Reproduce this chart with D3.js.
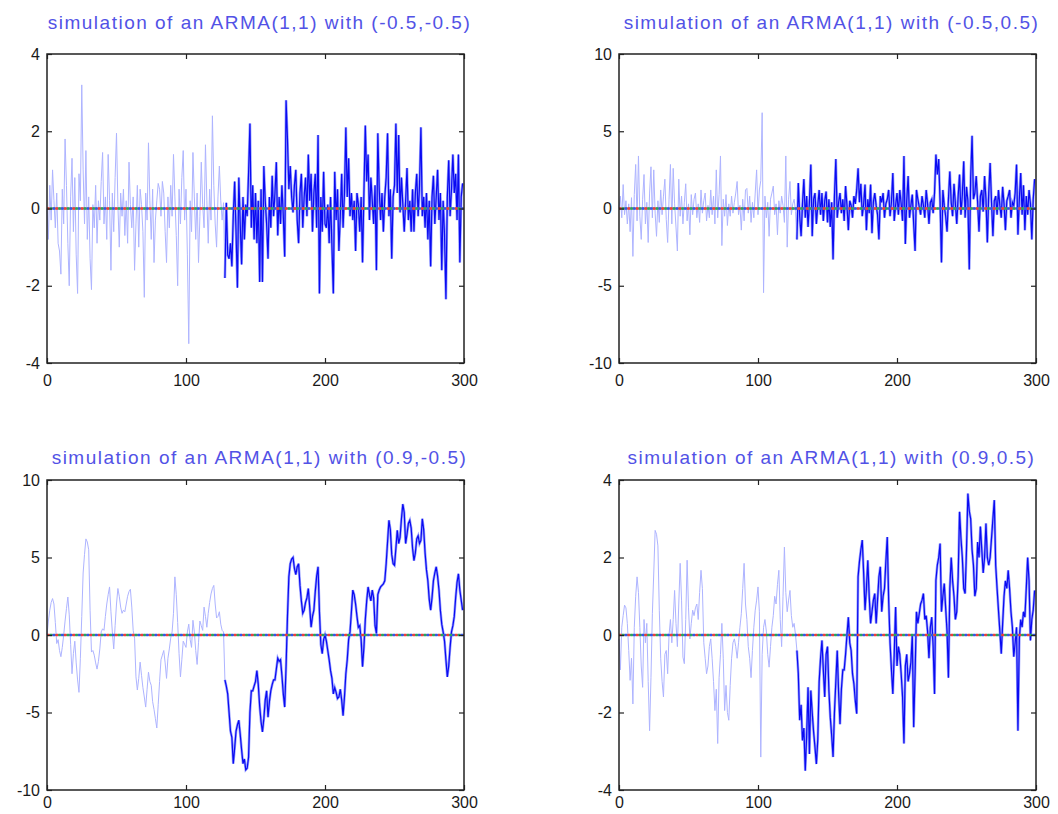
<!DOCTYPE html>
<html>
<head>
<meta charset="utf-8">
<script src="https://cdn.jsdelivr.net/npm/d3@7"></script>
<style>
    body { margin: 0; background: #fff; }
    .title { font-family: "Liberation Sans", Arial, sans-serif; font-size: 19px; letter-spacing: 1.5px; fill: #5252e6; }
    .axis text { font-family: "Liberation Sans", Arial, sans-serif; font-size: 16px; fill: #1a1a1a; }
    .axis line { stroke: #222; stroke-width: 1.2; }
    .axis path { display: none; }
    .frame { fill: none; stroke: #222; stroke-width: 1.5; }
</style>
</head>
<body>
<script>

var titles = [
    "simulation of an ARMA(1,1) with (-0.5,-0.5)",
    "simulation of an ARMA(1,1) with (-0.5,0.5)",
    "simulation of an ARMA(1,1) with (0.9,-0.5)",
    "simulation of an ARMA(1,1) with (0.9,0.5)"
];
var xTicks = [0, 100, 200, 300];
var yTicksSmall = [-4, -2, 0, 2, 4];
var yTicksLarge = [-10, -5, 0, 5, 10];
var yDomains = [[-4, 4], [-10, 10], [-10, 10], [-4, 4]];
var splitIndex = 128;

// (-0.5,-0.5)
var series1 = [
    0.0, -0.8, 0.6, -0.3, 1.0, 0.2, -0.5, 0.4, -0.9, -1.1, -1.7, 0.5, -0.4, 1.8, 0.6, -0.9, -2.0, 0.3, 1.3, -0.6,
    0.8, -1.2, -2.2, 0.9, 0.2, 3.2, 1.0, -0.4, 1.5, -0.8, 0.3, -1.3, -2.1, 0.1, -0.5, 0.6, -0.9, 0.2, -0.3, 0.7,
    1.45, -0.4, 0.3, -0.8, 1.4, 0.2, -1.6, 0.4, -0.6, 0.8, 1.95, 0.1, -1.0, 0.4, -0.2, 0.5, -0.7, 0.2, -0.9, 1.2,
    0.1, -0.5, 0.3, -1.6, -0.4, 0.6, -1.0, 0.5, 0.1, -0.6, -2.3, 0.4, -0.3, 1.7, 0.2, -0.8, 0.5, -1.4, -0.3, 0.2,
    0.65, 0.5, -0.2, 0.7, 0.4, -0.6, -1.4, 0.3, -0.5, 0.6, -0.2, 1.4, 0.3, -0.7, -2.0, 0.5, -0.4, 0.8, 1.5, -0.3,
    0.5, -1.2, -3.5, 0.2, -0.6, 1.45, 0.3, -0.8, 0.4, -1.4, -0.2, 1.2, 0.1, -0.5, 1.65, 0.2, -0.9, 0.5, -0.3, 2.4,
    0.6, -0.4, -1.0, 0.3, 1.1, 0.2, -0.3, 0.15, -1.8, 0.15, -1.2, -1.3, -0.9, -1.5, -0.2, 0.7, -0.6, -2.05, 0.8, -0.4,
    -1.45, 0.3, -0.8, 0.1, -0.2, 0.9, 2.2, -0.5, 0.6, -0.8, 0.4, -0.9, 0.2, -1.9, 0.5, -1.9, 1.1, 0.2, -0.4, -1.3,
    0.3, -0.5, 0.85, -0.2, 0.4, 1.2, -0.7, 0.3, -0.4, 0.6, -0.2, -1.25, 2.8, 1.8, 0.5, 1.1, 0.3, -0.1, 0.6, 1.0,
    -0.3, -0.9, 0.4, 0.9, -0.5, 0.3, 0.8, -0.2, 1.4, 0.2, 0.9, -0.6, 0.4, 0.9, -0.5, 1.9, -2.2, 0.3, -0.6, 0.95,
    -0.4, -0.5, 0.1, -0.9, 0.3, -1.0, -2.2, 0.95, -0.3, 0.5, -1.1, -0.2, 0.9, -0.5, 0.4, 2.1, 0.3, 1.3, -0.2, 0.4,
    -0.3, 0.2, -1.1, 0.4, 0.1, -0.6, 0.3, -1.4, 0.4, 2.15, 0.7, 1.4, -0.3, 0.8, 0.2, -0.4, 0.6, -1.6, 1.95, 0.5,
    -0.3, 0.4, -0.6, 0.3, 0.8, 1.95, -0.2, 0.5, -1.3, 0.3, 0.6, 2.2, 0.4, 1.9, -0.1, 0.8, 0.1, -0.6, 0.2, 1.05,
    -0.3, 0.2, -0.6, 0.5, -0.6, 0.4, 0.9, -0.2, 0.6, 2.1, -0.2, 0.3, -0.5, 0.4, -0.8, 0.2, -1.5, 0.3, 0.85, -0.4,
    0.3, 1.0, -0.3, 0.4, -1.6, 0.2, -0.7, -2.35, 0.3, 1.25, -0.2, 0.5, 1.4, 0.4, 0.9, -0.3, 1.4, -1.4, 0.3, 0.65
];

// (-0.5,0.5)
var series2 = [
    0.0, 0.8, -0.6, 1.55, -0.4, 0.5, -1.0, 0.3, -1.5, 0.7, -3.1, 0.9, 2.85, -0.8, 3.4, -0.5, -2.0, 0.6, 2.2, -1.0,
    0.4, -2.2, 1.0, 2.7, -0.6, 2.5, -0.3, -1.8, 0.5, -0.9, 1.2, -0.4, 0.8, 1.9, -0.7, -2.2, 0.6, 2.85, -1.0, 2.6,
    0.3, -1.2, -2.75, 1.9, -0.5, 0.8, -1.0, 0.4, 1.6, -0.8, 0.3, -1.7, 0.9, -0.4, 0.6, 1.0, -0.6, 0.3, -0.9, 1.2,
    -0.3, 0.5, 1.0, -0.8, 0.2, -0.6, 1.2, -0.4, 0.8, -1.0, 2.5, -0.6, 0.9, 3.4, -2.4, 0.6, -0.5, 0.9, -1.1, 0.3,
    -0.5, 0.8, -0.3, 0.4, 1.0, 1.75, -0.4, 0.2, -1.4, 0.6, -0.8, 1.2, 1.3, -0.3, 0.8, -0.9, 0.4, -0.6, 1.0, 2.5,
    -0.4, 1.2, 1.8, 6.2, -5.45, 0.8, -0.6, 0.4, -1.8, 0.6, 1.0, 1.45, -0.4, 0.3, -1.7, 0.5, -0.3, 0.8, 0.2, -0.9,
    3.4, -2.5, 0.6, 1.75, -0.4, 0.3, 0.6, -0.2, -2.0, 1.65, -0.5, -1.8, 0.3, 1.9, -0.6, 0.8, -1.2, 0.4, 2.85, -1.8,
    0.6, 1.0, -1.0, 0.2, 1.2, -0.4, 1.0, -0.8, 0.5, 1.1, -0.9, 0.6, -1.2, 0.4, -3.3, 0.8, 3.2, -0.6, 0.4, 1.0,
    -0.3, 0.6, -0.8, 1.45, 0.2, -1.4, 0.5, 0.2, -0.6, 0.8, 0.3, 1.2, 2.6, 0.4, 1.6, -0.5, 0.3, 1.55, -1.4, 0.6,
    -0.3, 1.55, -1.6, 0.4, 1.0, 0.2, -0.4, -2.0, 0.8, 0.4, 1.0, -0.6, 0.3, 0.6, 1.2, -0.5, 0.4, 2.3, -0.8, 0.2,
    1.0, -0.4, 1.2, 0.3, -0.8, 3.4, -2.3, 0.5, 2.1, -0.6, 0.2, 0.9, -1.0, -2.75, 1.2, 0.6, 0.1, -0.4, 0.8, 0.2,
    -0.6, 1.2, 0.3, -1.0, 0.4, 0.6, -0.3, 1.0, 3.5, 2.2, 3.2, 0.4, -3.5, 1.2, 0.2, -0.5, -1.5, 0.6, 2.4, 0.4,
    -0.5, 1.6, 0.3, -1.0, 0.8, 2.2, -0.4, 0.9, 3.05, -0.6, 1.4, 0.5, -3.95, 2.0, 4.7, 0.6, 1.0, 2.1, 0.4, -1.5,
    0.8, 1.2, -0.2, 2.1, 0.6, -2.2, 1.0, 2.95, 0.4, -1.8, 0.5, 0.8, -0.4, 1.2, 0.2, -0.6, 1.4, 0.3, -1.4, 0.5,
    0.8, 1.2, -0.6, 0.4, 0.2, 1.0, 2.85, -1.7, 0.6, 2.3, -0.4, 1.5, -1.4, 0.8, -0.4, 1.2, 0.3, -2.0, 0.6, 1.9
];

// (0.9,-0.5)
var series3 = [
    0.0, 0.9, 1.6, 2.1, 2.35, 2.0, 0.8, -0.55, -0.3, -1.0, -1.4, -0.8, 0.0, 0.9, 1.7, 2.45, 1.3, -0.6, -2.5, -1.2,
    -0.4, -1.8, -2.9, -3.7, -1.5, 1.2, 4.0, 5.2, 6.2, 6.0, 5.5, 1.6, -1.1, -1.0, -1.3, -1.8, -2.2, -1.7, -0.9, 0.2,
    0.4, 0.3, 1.2, 2.0, 2.6, 3.1, 1.5, 0.2, -0.9, 0.6, 2.0, 3.0, 2.5, 1.8, 1.4, 1.6, 1.5, 2.0, 2.5, 2.8,
    2.95, 1.8, 0.3, -0.2, -2.7, -3.55, -2.8, -1.75, -2.6, -3.4, -4.0, -4.65, -3.5, -2.4, -3.0, -3.25, -4.3, -4.8, -5.4, -6.0,
    -4.5, -3.0, -1.6, -1.3, -1.0, -1.8, -2.8, -1.5, -0.9, -0.2, 0.2, 1.4, 3.75, 2.6, 0.8, -1.2, -2.7, -1.6, -0.4, -0.6,
    -0.8, 0.2, 0.7, -0.3, -0.8, 0.95, 0.2, -1.0, -1.9, -0.5, 0.9, 0.6, 0.3, 1.8, 1.2, 0.5, 1.4, 2.1, 2.65, 3.0,
    3.2, 2.0, 1.1, 1.2, 1.5, 0.7, 0.3, 0.2, -2.9, -3.3, -3.8, -5.0, -6.2, -6.6, -8.3, -7.3, -6.2, -5.8, -5.5, -6.4,
    -7.4, -8.3, -8.0, -8.7, -8.6, -7.9, -5.0, -3.6, -3.6, -3.3, -3.0, -2.3, -3.2, -4.6, -5.6, -6.25, -5.4, -4.2, -3.6, -5.3,
    -4.3, -3.6, -3.2, -2.9, -2.9, -2.2, -1.5, -1.7, -1.6, -2.6, -3.8, -4.65, -2.0, 1.2, 3.75, 4.6, 4.9, 5.0, 4.3, 3.9,
    4.4, 4.6, 3.2, 2.2, 1.4, 1.6, 2.1, 2.4, 3.0, 1.8, 0.5, 1.2, 1.6, 2.8, 3.8, 4.4, 1.5, -0.6, -1.2, -0.3,
    0.0, -0.4, -1.0, -1.6, -2.3, -2.8, -3.8, -3.4, -3.7, -4.1, -4.0, -3.5, -4.2, -5.2, -4.0, -2.5, -1.6, -0.3, 0.2, 1.5,
    2.9, 2.6, 2.0, 1.2, 0.5, 0.6, -0.3, -2.05, -0.8, 1.0, 2.2, 3.1, 2.6, 2.2, 2.9, 2.4, 0.6, 0.1, 2.6, 2.9,
    3.1, 3.2, 3.3, 3.5, 4.6, 6.0, 7.4, 6.8, 5.2, 4.6, 4.5, 5.6, 6.75, 5.9, 6.3, 7.5, 8.45, 7.9, 5.9, 6.5,
    7.2, 7.4, 6.9, 5.6, 4.8, 5.3, 6.2, 6.4, 5.9, 6.1, 7.5, 6.8, 5.3, 4.2, 3.5, 2.3, 1.6, 2.4, 3.5, 4.0,
    4.4, 3.8, 2.9, 1.6, 0.7, 0.2, -0.4, -1.6, -2.7, -2.0, -0.8, 0.2, 0.6, 1.2, 2.4, 3.4, 3.95, 2.9, 2.25, 1.6
];

// (0.9,0.5)
var series4 = [
    -0.1, -0.9, 0.2, 0.5, 0.77, 0.7, 0.3, -0.4, -1.17, -0.6, -1.78, 0.2, 1.0, 1.5, 1.1, 0.2, -0.8, -1.35, 0.4, -0.2,
    0.3, -1.2, -2.47, -1.1, 0.55, 1.6, 2.7, 2.6, 2.3, 0.64, -0.6, -1.2, -1.6, -0.5, -0.4, -1.0, 0.0, 0.4, -0.2, 0.4,
    1.15, 0.3, -0.3, 0.8, 1.85, 0.9, -0.57, -0.74, 0.4, 1.93, 0.7, -0.1, 0.3, 0.64, 0.5, 0.7, 0.8, 0.4, 1.1, 1.67,
    1.2, -0.2, -0.6, -1.0, -0.8, -0.3, -0.1, -0.6, -1.2, -1.95, -1.4, -2.8, -1.1, -0.5, 0.3, -0.6, -1.95, -1.3, -2.0, -2.2,
    -1.3, -0.6, -0.2, -0.1, -0.3, -0.6, -0.2, 0.2, 0.55, 1.2, 1.85, 0.8, 0.4, -0.3, -0.6, -1.1, -0.4, 0.2, 0.64, 0.9,
    1.24, 0.6, -3.15, -0.5, 0.2, 0.4, 0.1, -0.5, -0.83, -0.3, 0.2, 0.5, 1.0, 0.8, 1.3, 1.67, 0.4, -0.3, 1.0, 2.27,
    1.1, 0.6, 0.9, 1.15, 0.5, 0.2, 0.3, 0.0, -0.4, -1.0, -2.2, -1.8, -2.72, -2.4, -3.5, -2.6, -1.35, -3.07, -1.43, -2.0,
    -2.5, -2.9, -3.33, -2.7, -1.2, -0.6, -0.14, -0.9, -1.6, -0.5, -0.3, -1.43, -2.12, -2.6, -3.15, -2.0, -1.2, -0.4, -1.5, -2.3,
    -1.4, -0.9, -0.9, -0.5, 0.0, 0.46, -0.2, -0.4, -1.0, -1.26, -1.7, -2.03, 1.5, 1.9, 2.2, 2.45, 1.6, 0.64, 1.2, 1.93,
    1.0, 0.3, 0.6, 0.9, 1.07, 0.3, 0.9, 1.5, 1.76, 0.6, 1.0, 1.2, 1.9, 2.53, 0.9, -0.2, -0.9, -1.52, -0.5, 0.72,
    -0.8, -0.3, -0.5, -1.0, -1.6, -2.8, -0.8, -0.5, -1.2, -1.0, -0.7, 0.0, -2.38, -1.0, 0.6, 0.3, 0.55, 0.8, 0.9, 1.07,
    0.4, 0.5, 0.1, -0.6, 0.2, 0.46, -0.3, -1.52, 1.41, 1.8, 2.0, 2.36, 0.6, 1.0, 1.33, 0.7, 0.1, -1.1, 1.2, 2.0,
    1.4, 1.0, 0.4, 0.6, 1.5, 3.18, 2.5, 2.0, 1.2, 1.07, 2.2, 3.65, 3.2, 3.0, 2.2, 1.8, 1.0, 1.2, 2.4, 2.0,
    2.8, 2.2, 1.6, 2.0, 2.88, 2.0, 1.8, 2.0, 2.5, 3.0, 3.48, 1.8, 1.2, 0.64, 0.1, -0.48, 0.3, 1.0, 1.4, 1.2,
    1.67, 1.2, 0.6, 0.2, -0.56, -0.2, 0.2, -2.47, -0.1, 0.4, 0.2, 0.6, 0.46, 1.2, 2.0, 1.4, -0.14, 0.4, 0.64, 1.15
];

var allSeries = [series1, series2, series3, series4];
var allYTicks = [yTicksSmall, yTicksLarge, yTicksLarge, yTicksSmall];

// panel boxes in page pixels
var panels = [
    { left: 47,  right: 464,  top: 54,  bottom: 363, titleY: 29,  xPad: 12 },
    { left: 619, right: 1036, top: 54,  bottom: 363, titleY: 29,  xPad: 12 },
    { left: 47,  right: 464,  top: 480, bottom: 790, titleY: 464, xPad: 7 },
    { left: 619, right: 1036, top: 480, bottom: 790, titleY: 464, xPad: 7 }
];

var svg = d3.select("body")
    .append("svg")
    .attr("width", 1058)
    .attr("height", 814);

panels.forEach(function(p, k) {
    drawPanel(p, allSeries[k], yDomains[k], allYTicks[k], titles[k]);
});

function plainNumber(d) {
    return String(d);
}

function drawPanel(p, values, yDomain, yTicks, title) {

    var x = d3.scaleLinear().domain([0, 300]).range([p.left, p.right]);
    var y = d3.scaleLinear().domain(yDomain).range([p.bottom, p.top]);

    var g = svg.append("g");

    var line = d3.line()
        .x(function(d) { return x(d.i); })
        .y(function(d) { return y(d.v); });

    var pts = values.map(function(v, i) { return { i: i, v: v }; });
    var early = pts.slice(0, splitIndex + 1);
    var late = pts.slice(splitIndex);

    // pale simulated part
    g.append("path")
        .datum(early)
        .attr("d", line)
        .attr("fill", "none")
        .attr("stroke", "#aeb4ff")
        .attr("stroke-width", 1);

    // dark part with a pale halo under it
    g.append("path")
        .datum(late)
        .attr("d", line)
        .attr("fill", "none")
        .attr("stroke", "#9aa2ff")
        .attr("stroke-width", 2.6);

    g.append("path")
        .datum(late)
        .attr("d", line)
        .attr("fill", "none")
        .attr("stroke", "#0a0af2")
        .attr("stroke-width", 1.2);

    // zero line, several dotted colours on top of each other
    var zeroColors = ["#9a7a5c", "#f03c3c", "#22a860", "#2f55ee"];
    zeroColors.forEach(function(c, j) {
        g.append("line")
            .attr("x1", x(0))
            .attr("x2", x(300))
            .attr("y1", y(0))
            .attr("y2", y(0))
            .attr("stroke", c)
            .attr("stroke-width", j == 0 ? 2 : 2.4)
            .attr("stroke-dasharray", j == 0 ? null : "2.5,6")
            .attr("stroke-dashoffset", j == 0 ? 0 : -(j - 1) * 2.8);
    });

    g.append("g")
        .attr("class", "axis")
        .attr("transform", "translate(0," + p.bottom + ")")
        .call(d3.axisBottom(x).tickValues(xTicks).tickSize(-5).tickPadding(p.xPad).tickFormat(plainNumber));

    g.append("g")
        .attr("class", "axis")
        .attr("transform", "translate(0," + p.top + ")")
        .call(d3.axisTop(x).tickValues(xTicks).tickSize(-5).tickFormat(""));

    g.append("g")
        .attr("class", "axis")
        .attr("transform", "translate(" + p.left + ",0)")
        .call(d3.axisLeft(y).tickValues(yTicks).tickSize(-5).tickPadding(7).tickFormat(plainNumber));

    g.append("g")
        .attr("class", "axis")
        .attr("transform", "translate(" + p.right + ",0)")
        .call(d3.axisRight(y).tickValues(yTicks).tickSize(-5).tickFormat(""));

    g.append("rect")
        .attr("class", "frame")
        .attr("x", p.left)
        .attr("y", p.top)
        .attr("width", p.right - p.left)
        .attr("height", p.bottom - p.top);

    g.append("text")
        .attr("class", "title")
        .attr("x", (p.left + p.right) / 2 + 4)
        .attr("y", p.titleY)
        .attr("text-anchor", "middle")
        .text(title);
}

</script>
</body>
</html>
